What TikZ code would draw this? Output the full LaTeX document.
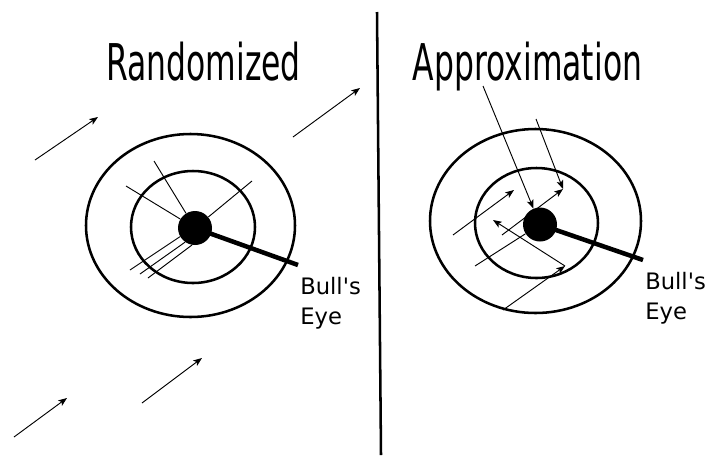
\documentclass[tikz,border=0pt]{standalone}
\usepackage{fontspec}
\setmainfont{DejaVu Sans}
\usetikzlibrary{arrows.meta}
\usetikzlibrary{positioning}

\begin{document}
\begin{tikzpicture}[x=0.75pt,y=-0.75pt,
	ring/.style={line width=1.9pt},
	hit/.style={line width=0.7pt},
	dart/.style={line width=0.7pt,-{Stealth[length=6.5pt,width=5pt,inset=1.5pt]}},
	eye/.style={circle,fill=black,minimum size=25.5pt,inner sep=0pt},
	eyeline/.style={line width=3.4pt},
	headtext/.style={font=\fontsize{38}{40}\selectfont,xscale=0.62,inner sep=0pt,anchor=base},
	eyetext/.style={font=\fontsize{17}{22.5}\selectfont,align=left,inner sep=0pt,anchor=north west}]
	\useasboundingbox (0,0) rectangle (707,458);
	% titles and divider
	\node[headtext] (rand) at (203.5,80) {Randomized};
	\node[headtext] (approx) at (527.5,80) {Approximation};
	\draw[line width=1.9pt] (377,12) -- (381,455);
	% left target
	\draw[ring] (190.5,225.5) ellipse (104.5 and 91.5);
	\draw[ring] (193,227) ellipse (62 and 56);
	\node[eye] (eyeL) at (195,228) {};
	\draw[hit] (154,161) -- (eyeL);
	\draw[hit] (126,186) -- (eyeL);
	\draw[hit] (252,181) -- (eyeL);
	\draw[hit] (130,270) -- (eyeL.-150);
	\draw[hit] (140,274) -- (eyeL.-125);
	\draw[hit] (148,278) -- (eyeL.-100);
	\coordinate (tipL) at (298,265);
	\draw[eyeline] (eyeL.center) -- (tipL);
	\node[eyetext] (bullL) at (300,277) {Bull\textquotesingle s\\Eye};
	\foreach \xa/\ya/\xb/\yb in {35/160/98/117, 293/137/360/88, 14/437/67/398, 142/403/202/358}
	{
		\draw[dart] (\xa,\ya) -- (\xb,\yb);
	}
	% right target
	\draw[ring] (535.5,221) ellipse (105.5 and 92);
	\draw[ring] (536.5,223) ellipse (61.5 and 55);
	\node[eye] (eyeR) at (540,224.5) {};
	\draw[dart] (483,86) -- (eyeR);
	\draw[dart] (536,119) -- (563,189);
	\draw[dart] (453,235) -- (514,190);
	\draw[dart] (502,235) -- (563,189);
	\draw[hit] (475,266) -- (eyeR);
	\draw[dart] (565,266) -- (493,220);
	\draw[dart] (503,310) -- (565,266);
	\coordinate (tipR) at (643,260);
	\draw[eyeline] (eyeR.center) -- (tipR);
	\node[eyetext] (bullR) at (645,272) {Bull\textquotesingle s\\Eye};
\end{tikzpicture}
\end{document}
